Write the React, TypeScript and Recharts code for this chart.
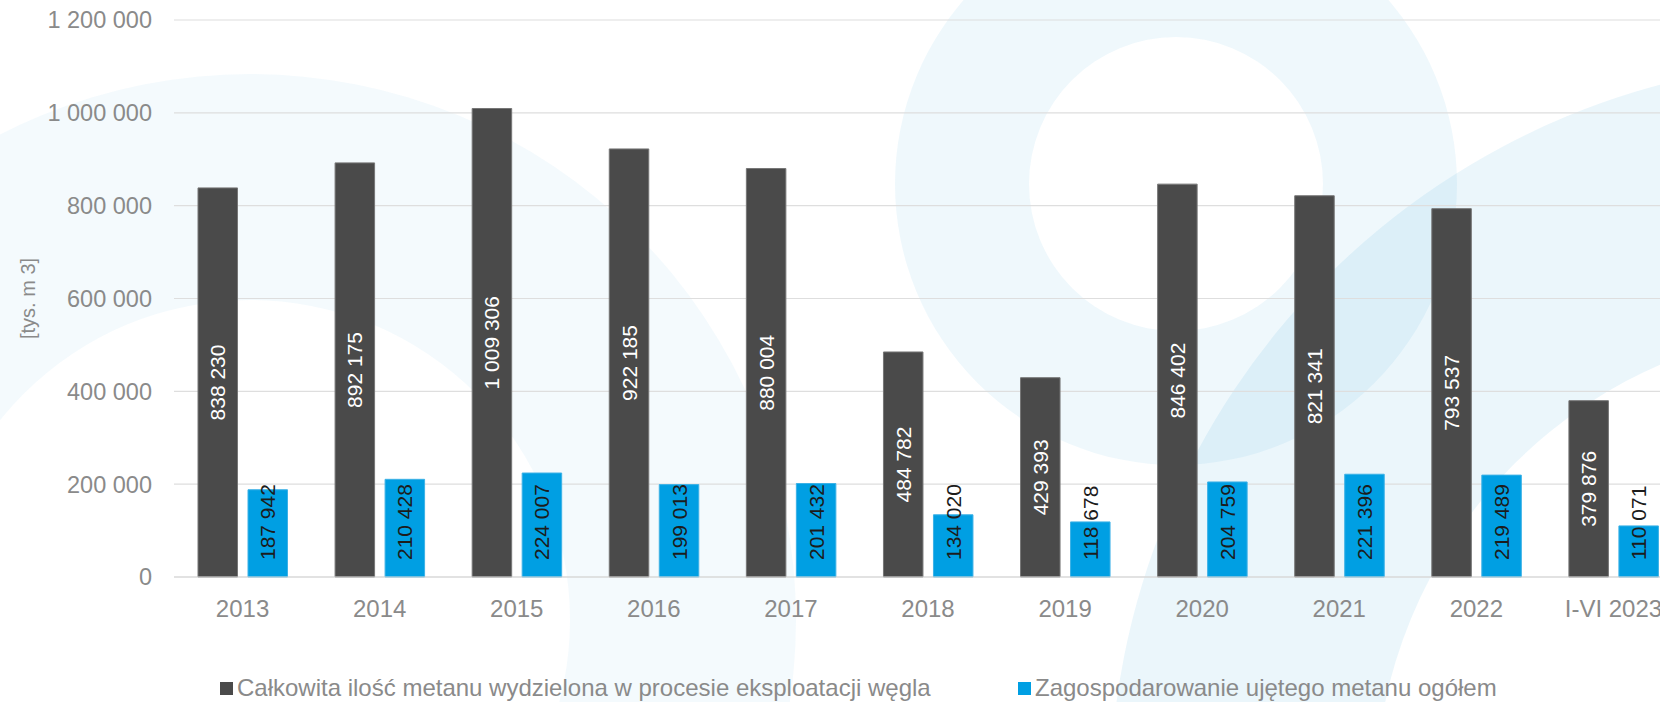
import React from 'react';
import {BarChart, Bar, XAxis, YAxis, CartesianGrid, Legend, LabelList, Label} from 'recharts';

// lata (kategorie)
const years = ['2013', '2014', '2015', '2016', '2017', '2018', '2019', '2020', '2021', '2022', 'I-VI 2023'];

// [tys. m3]
const emitted = [838230, 892175, 1009306, 922185, 880004, 484782, 429393, 846402, 821341, 793537, 379876];
const utilized = [187942, 210428, 224007, 199013, 201432, 134020, 118678, 204759, 221396, 219489, 110071];

const yTicks = [0, 200000, 400000, 600000, 800000, 1000000, 1200000];

const seriesNames = [
    'Całkowita ilość metanu wydzielona w procesie eksploatacji węgla',
    'Zagospodarowanie ujętego metanu ogółem',
];
const colors = ['#4a4a4a', '#009fe3'];
const unitLabel = '[tys. m 3]';

const data = years.map((y, i) => ({year: y, emitted: emitted[i], utilized: utilized[i]}));

const fmt = (v: number) => String(v).replace(/\B(?=(\d{3})+(?!\d))/g, ' ');

const GRAY = '#8a8a8a';

const DarkLabel = (props: any) => {
    const {x, y, width, height, value} = props;
    const cx = x + width / 2;
    const cy = y + height / 2;
    return (
        <text x={cx} y={cy} dy="0.36em" textAnchor="middle" fontSize={21} fill="#ffffff"
              transform={`rotate(-90 ${cx} ${cy})`}>
            {fmt(value)}
        </text>
    );
};

const BlueLabel = (props: any) => {
    const {x, y, width, height, value} = props;
    const cx = x + width / 2;
    const by = y + height - 17;
    return (
        <text x={cx} y={by} dy="0.36em" textAnchor="start" fontSize={21} fill="#1c1c1c"
              transform={`rotate(-90 ${cx} ${by})`}>
            {fmt(value)}
        </text>
    );
};

const UnitLabel = (props: any) => {
    const vb = props.viewBox || {x: 0, y: 20, width: 174, height: 557};
    const cx = 28;
    const cy = vb.y + vb.height / 2;
    return (
        <text x={cx} y={cy} dy="0.36em" textAnchor="middle" fontSize={20} fill={GRAY}
              transform={`rotate(-90 ${cx} ${cy})`}>
            {unitLabel}
        </text>
    );
};

const legendLeft = [220, 1018];

const renderLegend = () => (
    <div style={{position: 'relative', height: 28, fontSize: 24, color: GRAY}}>
        {seriesNames.map((n, i) => (
            <div key={n} style={{position: 'absolute', left: legendLeft[i], top: 0, lineHeight: '28px', whiteSpace: 'nowrap'}}>
                <span style={{display: 'inline-block', width: 13, height: 13, background: colors[i], marginRight: 4, verticalAlign: 1}}/>
                {n}
            </div>
        ))}
    </div>
);

// tlo - jasne pierscienie
const ring = (cx: number, cy: number, r1: number, r2: number) =>
    `M ${cx - r1} ${cy} a ${r1} ${r1} 0 1 0 ${2 * r1} 0 a ${r1} ${r1} 0 1 0 ${-2 * r1} 0 Z ` +
    `M ${cx - r2} ${cy} a ${r2} ${r2} 0 1 0 ${2 * r2} 0 a ${r2} ${r2} 0 1 0 ${-2 * r2} 0 Z`;

const Background = () => (
    <svg width={1660} height={702} style={{position: 'absolute', left: 0, top: 0}}>
        <path d={ring(250, 620, 546, 320)} fill="#1f9bd7" fillOpacity={0.05} fillRule="evenodd"/>
        <path d={ring(1176, 184, 281, 147)} fill="#1f9bd7" fillOpacity={0.07} fillRule="evenodd"/>
        <path d={ring(1850, 800, 740, 475)} fill="#1f9bd7" fillOpacity={0.09} fillRule="evenodd"/>
    </svg>
);

const App = () => {
    return (
        <div style={{position: 'fixed', left: 0, top: 0, width: 1660, height: 702, overflow: 'hidden',
            background: '#fff', fontFamily: '"Liberation Sans", Arial, sans-serif'}}>
            <Background/>
            <div style={{position: 'absolute', left: 0, top: 0}}>
                <BarChart width={1700} height={702} data={data} barSize={39.5} barGap={10.5}
                          margin={{top: 20, right: 18, bottom: 0, left: 0}}>
                    <CartesianGrid vertical={false} stroke="#dedede" strokeWidth={1.2}/>
                    <XAxis dataKey="year" height={97} interval={0} tickLine={false} tickSize={0} tickMargin={23}
                           axisLine={{stroke: '#d6d6d6', strokeWidth: 1.2}}
                           tick={{fill: GRAY, fontSize: 24}}/>
                    <YAxis width={174} domain={[0, 1200000]} ticks={yTicks} interval={0} tickFormatter={fmt}
                           axisLine={false} tickLine={false} tickSize={0} tickMargin={22}
                           tick={{fill: GRAY, fontSize: 23.5}}>
                        <Label content={UnitLabel}/>
                    </YAxis>
                    <Legend verticalAlign="bottom" content={renderLegend}/>
                    <Bar dataKey="emitted" name={seriesNames[0]} fill={colors[0]} stroke="#767676" strokeWidth={1}
                         isAnimationActive={false}>
                        <LabelList dataKey="emitted" content={DarkLabel}/>
                    </Bar>
                    <Bar dataKey="utilized" name={seriesNames[1]} fill={colors[1]} stroke="#3cb1e6" strokeWidth={1}
                         isAnimationActive={false}>
                        <LabelList dataKey="utilized" content={BlueLabel}/>
                    </Bar>
                </BarChart>
            </div>
        </div>
    );
};

export default App;
